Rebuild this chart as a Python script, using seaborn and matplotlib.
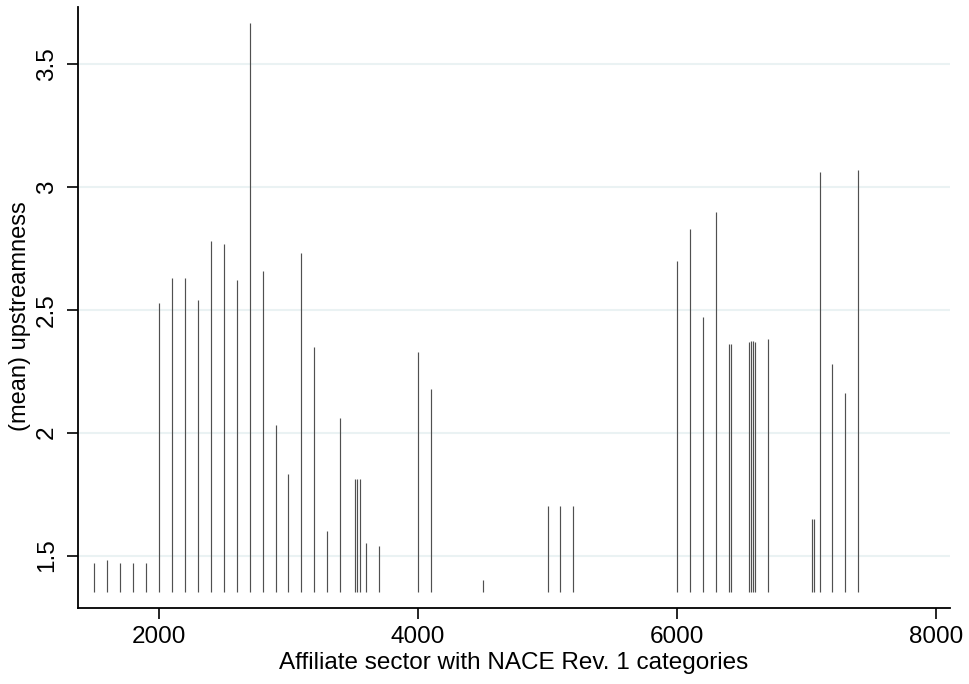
import matplotlib
matplotlib.use("Agg")
import matplotlib.pyplot as plt
import seaborn as sns
import pandas as pd

sectors = [1500, 1600, 1700, 1800, 1900,
           2000, 2100, 2200, 2300, 2400, 2500, 2600, 2700, 2800, 2900,
           3000, 3100, 3200, 3300, 3400, 3511, 3530, 3550, 3600, 3700,
           4000, 4100, 4500, 5000, 5100, 5200,
           6000, 6100, 6200, 6300, 6400, 6420, 6555, 6570, 6585, 6600, 6700,
           7045, 7055, 7100, 7200, 7300, 7400]
upstreamness = [1.47, 1.48, 1.47, 1.47, 1.47,
                2.53, 2.63, 2.63, 2.54, 2.78, 2.77, 2.62, 3.67, 2.66, 2.03,
                1.83, 2.73, 2.35, 1.60, 2.06, 1.81, 1.81, 1.81, 1.55, 1.54,
                2.33, 2.18, 1.40, 1.70, 1.70, 1.70,
                2.70, 2.83, 2.47, 2.90, 2.36, 2.36, 2.37, 2.375, 2.375, 2.37, 2.38,
                1.65, 1.65, 3.06, 2.28, 2.16, 3.07]
base_value = 1.35
xticks = [2000, 4000, 6000, 8000]
yticks = [1.5, 2, 2.5, 3, 3.5]
ytick_labels = ["1.5", "2", "2.5", "3", "3.5"]

df = pd.DataFrame({"sector": sectors, "up": upstreamness})

sns.set_theme(style="white")
plt.rcParams["font.family"] = ["Liberation Sans", "DejaVu Sans"]

fig = plt.figure(figsize=(9.69, 6.84), dpi=100)
ax = fig.add_axes([0.0805, 0.111, 0.9, 0.879])

ax.vlines(df["sector"], base_value, df["up"], color="#505050", linewidth=0.85)

ax.set_xlim(1375, 8108)
ax.set_ylim(1.286, 3.734)
ax.set_xticks(xticks)
ax.set_yticks(yticks)
ax.set_yticklabels(ytick_labels, rotation=90, va="center")
ax.tick_params(axis="both", direction="out", length=8, width=1.2, color="black",
               labelsize=17.5, labelcolor="black", left=True, bottom=True)
ax.tick_params(axis="x", pad=5)
ax.tick_params(axis="y", pad=6.5)
for y in yticks:
    ax.axhline(y, color="#EAF2F3", linewidth=1.5, zorder=0)

sns.despine(ax=ax, top=True, right=True)
for s in ["left", "bottom"]:
    ax.spines[s].set_color("black")
    ax.spines[s].set_linewidth(1.3)

ax.set_xlabel("Affiliate sector with NACE Rev. 1 categories", fontsize=17.5, color="black", labelpad=2.5)
ax.set_ylabel("")
fig.text(20 / 969, 1 - 316 / 684, "(mean) upstreamness", rotation=90,
         ha="center", va="center", fontsize=17, color="black")

fig.savefig("out.png", dpi=100, facecolor="white")
